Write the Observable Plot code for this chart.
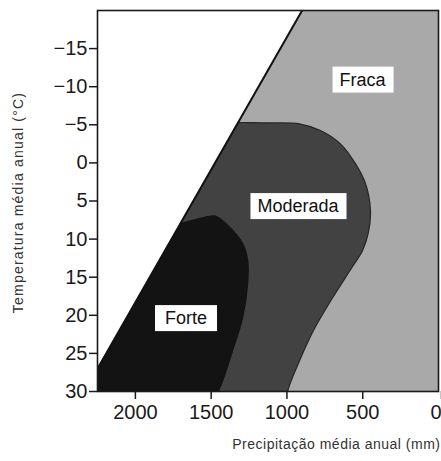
<!DOCTYPE html>
<html>
<head>
<meta charset="utf-8">
<script src="https://cdn.jsdelivr.net/npm/d3@7"></script>
<script src="https://cdn.jsdelivr.net/npm/@observablehq/plot@0.6"></script>
<style>
  html, body { margin: 0; padding: 0; background: #fff; }
  #chart { width: 441px; height: 461px; }
</style>
</head>
<body>
<div id="chart"></div>
<script>
// Axis ticks
const tempTicks = [-15, -10, -5, 0, 5, 10, 15, 20, 25, 30];
const precipTicks = [2000, 1500, 1000, 500, 0];

// Diagonal boundary (precipitation mm, temperature °C)
const diagP = [2250, 900];
const diagT = [27, -20];

// White (no-weathering) region corner points
const whiteP = [2250, 900, 2250];
const whiteT = [27, -20, -20];

// "Moderada" zone outline (extends under the white region / below axis, clipped)
const modP = [2300, 1700, 1287, 1100, 911, 779, 647, 548, 482, 449, 462, 501, 567, 699, 825, 924, 996, 1020, 2300];
const modT = [-5.4, -5.35, -5.3, -5.25, -5.1, -4.25, -2.5, 0.1, 2.7, 6.2, 9.1, 11.5, 13.6, 17.7, 22, 26.3, 30, 33, 33];

// "Forte" zone outline
const fortP = [2300, 1800, 1550, 1471, 1392, 1293, 1260, 1260, 1293, 1359, 1425, 1452, 1470, 2300];
const fortT = [9, 8.4, 7.2, 7.0, 8.2, 10.6, 12.8, 15.8, 20.3, 24.6, 28.6, 30, 33, 33];

// Zone labels
const zoneLabels = ["Fraca", "Moderada", "Forte"];
const labelP = [501, 927, 1666];
const labelT = [-10.9, 5.7, 20.4];

// Axis titles
const yTitle = "Temperatura média anual (°C)";
const xTitle = "Precipitação média anual (mm)";

const toPts = (P, T) => P.map((p, i) => ({p, t: T[i]}));
const diag = toPts(diagP, diagT);
const white = toPts(whiteP, whiteT);
const moderada = toPts(modP, modT);
const forte = toPts(fortP, fortT);
const labels = zoneLabels.map((name, i) => ({name, p: labelP[i], t: labelT[i]}));

const minus = d => d < 0 ? "\u2212" + Math.abs(d) : String(d);
const innerTicks = precipTicks.filter(d => d !== 0);
const edgeTicks = precipTicks.filter(d => d === 0);

const chart = Plot.plot({
  width: 441,
  height: 461,
  marginLeft: 97,
  marginRight: 3,
  marginTop: 10,
  marginBottom: 70,
  style: {fontFamily: "'Liberation Sans', Arial, sans-serif", fontSize: "20px", color: "#1a1a1a", background: "#fff"},
  x: {domain: [2250, 0]},
  y: {domain: [-20, 30], reverse: true},
  marks: [
    Plot.frame({fill: "#a9a9a9", stroke: null}),
    Plot.line(moderada, {x: "p", y: "t", curve: "catmull-rom-closed", fill: "#424242", stroke: "#262626", strokeWidth: 1.2, clip: true}),
    Plot.line(forte, {x: "p", y: "t", curve: "catmull-rom-closed", fill: "#131313", stroke: "#131313", clip: true}),
    Plot.line(white, {x: "p", y: "t", curve: "linear-closed", fill: "#fff", stroke: null, clip: true}),
    Plot.line(diag, {x: "p", y: "t", stroke: "#111", strokeWidth: 2, clip: true}),
    Plot.axisY({ticks: tempTicks, tickFormat: minus, tickSize: 8, tickPadding: 2, strokeWidth: 1.5, label: null, fontSize: 20}),
    Plot.axisX({ticks: innerTicks, tickFormat: d => String(d), tickSize: 8, tickPadding: 5, strokeWidth: 1.5, label: null, fontSize: 20}),
    Plot.axisX({ticks: edgeTicks, tickFormat: d => String(d), tickSize: 8, tickPadding: 5, strokeWidth: 1.5, label: null, fontSize: 20, textAnchor: "end", dx: 3}),
    Plot.text(labels, {x: "p", y: "t", text: "name", fontSize: 18, fill: "#111"}),
    Plot.text([yTitle], {frameAnchor: "left", dx: -79, dy: 1.5, rotate: -90, textAnchor: "middle", fontSize: 14, fill: "#333"}),
    Plot.text([xTitle], {frameAnchor: "bottom-right", dx: 2, dy: 57, textAnchor: "end", fontSize: 14, fill: "#333"}),
    Plot.frame({stroke: "#1a1a1a", strokeWidth: 1.6})
  ]
});

document.getElementById("chart").appendChild(chart);

// Post-render styling: letter spacing and white boxes behind the zone labels
const svgNS = "http://www.w3.org/2000/svg";
chart.querySelectorAll("text").forEach(t => {
  const s = t.textContent;
  if (s === yTitle) t.setAttribute("letter-spacing", "1.2");
  else if (s === xTitle) t.setAttribute("letter-spacing", "0.5");
  else if (zoneLabels.includes(s)) {
    const b = t.getBBox();
    const padX = s === "Forte" ? 10 : 7, padY = 3;
    const r = document.createElementNS(svgNS, "rect");
    r.setAttribute("x", b.x - padX);
    r.setAttribute("y", b.y - padY);
    r.setAttribute("width", b.width + 2 * padX);
    r.setAttribute("height", b.height + 2 * padY);
    r.setAttribute("fill", "#fff");
    const tr = t.getAttribute("transform");
    if (tr) r.setAttribute("transform", tr);
    t.parentNode.insertBefore(r, t);
  }
});
</script>
</body>
</html>
